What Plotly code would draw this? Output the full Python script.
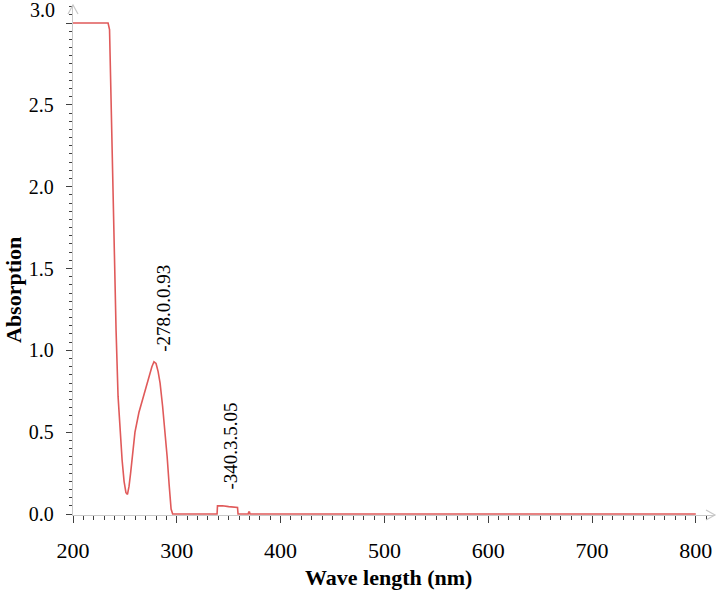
import plotly.graph_objects as go

# UV-Vis spectrum
wavelength = [200, 233.8, 235.2, 236.5, 237.6, 239.5, 241.5, 243.4, 245.3, 247.3, 249.2, 251,
              252.5, 254, 255.5, 257.2, 259.7, 263.5, 267.4, 272, 276, 278, 280, 282, 283.9,
              286.3, 288.7, 290.7, 292.6, 294.5, 296, 338.8, 339.2, 344, 350, 358.5, 359,
              368.8, 369.3, 370, 370.5, 800]
absorption = [3.0, 3.0, 2.96, 2.55, 2.25, 1.63, 1.12, 0.72, 0.5, 0.33, 0.2, 0.13,
              0.12, 0.17, 0.25, 0.37, 0.5, 0.62, 0.71, 0.82, 0.9, 0.93, 0.92, 0.87, 0.8,
              0.66, 0.51, 0.35, 0.18, 0.03, 0.0, 0.0, 0.05, 0.05, 0.045, 0.04, 0.0,
              0.0, 0.012, 0.012, 0.0, 0.0]

peaks = [(278.0, 0.93, "-278.0.0.93", 10, 54), (340.3, 0.05, "-340.3.5.05", 12, 60)]

x_ticks = [200, 300, 400, 500, 600, 700, 800]
y_ticks = [0.0, 0.5, 1.0, 1.5, 2.0, 2.5, 3.0]

serif = "Times New Roman, Liberation Serif, DejaVu Serif, serif"
axis_grey = "#c8c8c8"
tick_dark = "#404040"

fig = go.Figure()
fig.add_trace(go.Scatter(x=wavelength, y=absorption, mode="lines",
                         line=dict(color="#e05a5a", width=1.6), showlegend=False))

for px, py, txt, dx, dy in peaks:
    fig.add_annotation(x=px, y=py, text=txt, showarrow=False, textangle=-90,
                       xanchor="center", yanchor="middle", xshift=dx, yshift=dy,
                       font=dict(family=serif, size=19, color="black"))

# y=3.0 label sits a bit high in the original
fig.add_annotation(xref="paper", yref="y", x=0, y=3.0, text="3.0", showarrow=False,
                   xanchor="right", yanchor="middle", xshift=-16, yshift=13,
                   font=dict(family=serif, size=20, color="black"))

fig.add_annotation(xref="paper", yref="paper", x=0.492, y=0, text="<b>Wave length (nm)</b>",
                   showarrow=False, xanchor="center", yanchor="middle", yshift=-62,
                   font=dict(family=serif, size=22, color="black"))
fig.add_annotation(xref="paper", yref="paper", x=0, y=0, text="<b>Absorption</b>",
                   showarrow=False, textangle=-90, xanchor="center", yanchor="middle",
                   xshift=-60, yshift=225, font=dict(family=serif, size=22, color="black"))

# open arrow heads at the axis ends
fig.add_shape(type="path", xref="paper", yref="paper", xsizemode="pixel", ysizemode="pixel",
              xanchor=1, yanchor=0, path="M -9,-5 L 0,0 L -9,5",
              line=dict(color=axis_grey, width=1.2))
fig.add_shape(type="path", xref="paper", yref="paper", xsizemode="pixel", ysizemode="pixel",
              xanchor=0, yanchor=1, path="M -5,-9 L 0,0 L 5,-9",
              line=dict(color=axis_grey, width=1.2))

fig.update_xaxes(range=[200, 818.5], tickvals=x_ticks, ticktext=[str(v) for v in x_ticks],
                 automargin=False,
                 showgrid=False, zeroline=False, showline=True, linecolor=axis_grey, linewidth=1.3,
                 ticks="outside", ticklen=7, tickwidth=1.3, tickcolor=tick_dark,
                 ticklabelstandoff=8,
                 minor=dict(ticks="outside", dtick=10, ticklen=4, tickwidth=1.2, tickcolor=tick_dark),
                 tickfont=dict(family=serif, size=22, color="black"))
fig.update_yaxes(range=[-0.006, 3.11], tickvals=y_ticks,
                 ticktext=["0.0", "0.5", "1.0", "1.5", "2.0", "2.5", ""],
                 automargin=False,
                 showgrid=False, zeroline=False, showline=True, linecolor=axis_grey, linewidth=1.3,
                 ticks="outside", ticklen=6, tickwidth=1.3, tickcolor=tick_dark,
                 ticklabelstandoff=8,
                 minor=dict(ticks="outside", dtick=0.05, ticklen=3, tickwidth=1.2, tickcolor=tick_dark),
                 tickfont=dict(family=serif, size=20, color="black"))

fig.update_layout(width=717, height=601, plot_bgcolor="white", paper_bgcolor="white",
                  font=dict(family=serif),
                  margin=dict(l=73, r=2, t=5, b=86))

# page body has a default 8px margin, drop it so the chart sits at 0,0
fig.write_html("out.html", config={"displayModeBar": False},
               post_script="document.body.style.margin='0';")
